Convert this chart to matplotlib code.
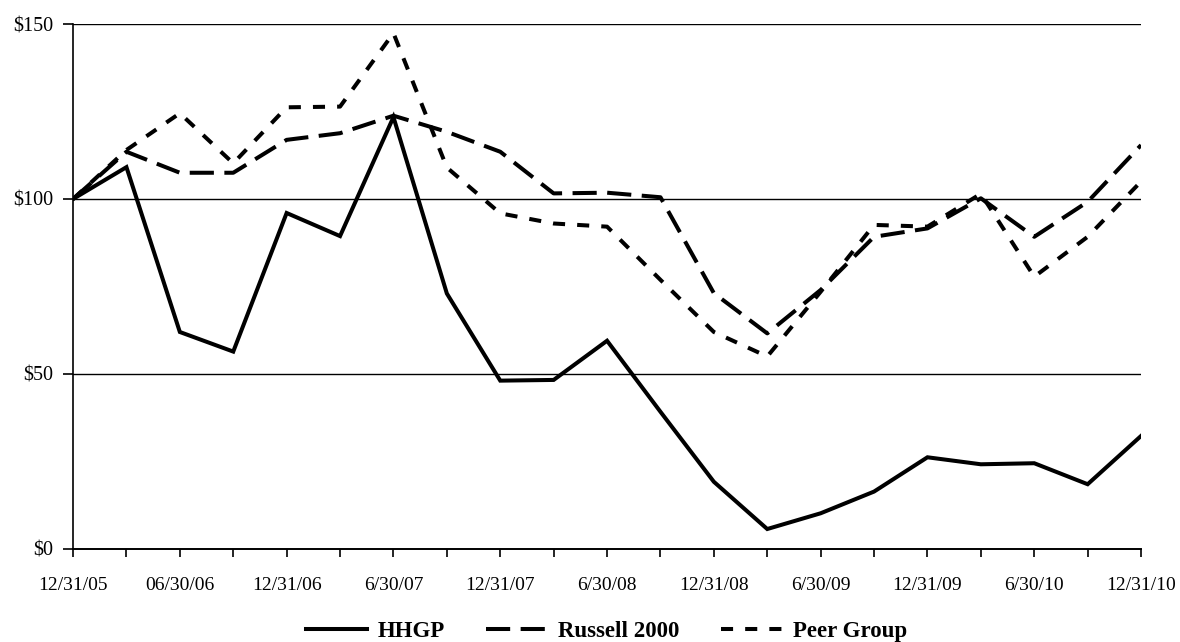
import matplotlib
matplotlib.use("Agg")
import matplotlib.pyplot as plt
import numpy as np

plt.rcParams['font.family'] = ['Liberation Serif', 'DejaVu Serif']

# quarterly values, 12/31/05 .. 12/31/10
hhgp = [100, 109.1, 62, 56.4, 96, 89.4, 123.4, 73, 48.1, 48.3, 59.5,
        39.2, 19.2, 5.7, 10.2, 16.4, 26.2, 24.2, 24.5, 18.5, 32.3]
russell = [100, 113.5, 107.5, 107.5, 116.9, 118.8, 123.8, 119.2, 113.5, 101.6, 101.8,
           100.5, 73.1, 61.6, 74, 89.2, 91.6, 100.2, 89.2, 99.2, 115.4]
peer = [100, 114, 124.5, 110.2, 126.2, 126.4, 147.4, 109, 95.9, 93, 92.1,
        76.9, 62, 55, 73.5, 92.6, 92.1, 101.5, 77.8, 89.2, 105]
tick_labels = ['12/31/05', '06/30/06', '12/31/06', '6/30/07', '12/31/07', '6/30/08',
               '12/31/08', '6/30/09', '12/31/09', '6/30/10', '12/31/10']
y_ticks = [0, 50, 100, 150]

fig = plt.figure(figsize=(11.8, 6.42), dpi=100)
ax = fig.add_axes([0.0619, 0.1449, 0.9051, 0.8177])

x = np.arange(len(hhgp))
lw = 2.9
ax.plot(x, hhgp, color='black', linewidth=lw, solid_joinstyle='miter', label='HHGP')
ax.plot(x, russell, color='black', linewidth=lw, linestyle=(0, (6, 2.6)), label='Russell 2000')
ax.plot(x, peer, color='black', linewidth=lw, linestyle=(0, (3, 3)), label='Peer Group')

ax.set_xlim(0, len(hhgp) - 1)
ax.set_ylim(0, 150)
for v in y_ticks[1:]:
    ax.axhline(v, color='black', linewidth=1.0, zorder=0)

ax.set_yticks(y_ticks)
ax.set_yticklabels(['$' + str(v) for v in y_ticks])
ax.set_xticks(x)
ax.set_xticklabels([tick_labels[i // 2] if i % 2 == 0 else '' for i in x])

ax.tick_params(axis='x', direction='out', length=6, width=1.2, pad=14, labelsize=14)
ax.tick_params(axis='y', direction='out', length=7, width=1.2, pad=7, labelsize=14.5)

ax.spines['top'].set_visible(False)
ax.spines['right'].set_visible(False)
ax.spines['left'].set_linewidth(1.2)
ax.spines['bottom'].set_linewidth(1.4)

fig.legend(loc='center', bbox_to_anchor=(0.514, 0.016), ncol=3, frameon=False,
           handlelength=2.7, handletextpad=0.45, columnspacing=1.8,
           prop={'family': 'Liberation Serif', 'weight': 'bold', 'size': 16.5})

fig.savefig('out.png', dpi=100)
